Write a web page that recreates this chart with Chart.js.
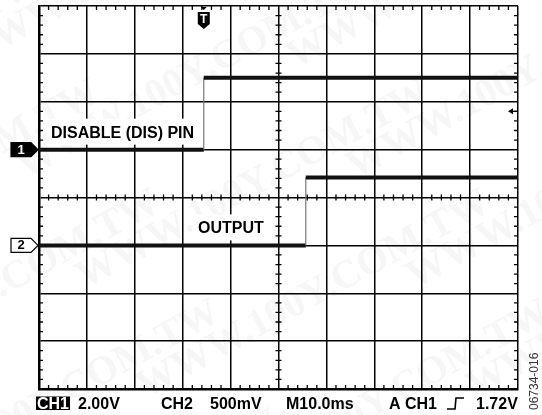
<!DOCTYPE html>
<html>
<head>
<meta charset="utf-8">
<script src="https://cdn.jsdelivr.net/npm/chart.js@4/dist/chart.umd.min.js"></script>
<style>
  html, body { margin: 0; padding: 0; background: #fff; }
  #wrap { width: 542px; height: 415px; position: relative; }
</style>
</head>
<body>
<div id="wrap"><canvas id="scope"></canvas></div>
<script>
// time in ms (10 ms/div), levels in screen divisions (8 div tall)
const ch1Time = [0, 34.4, 34.4, 100];
const ch1Level = [1.0, 1.0, 2.5, 2.5];
const ch2Time = [0, 55.7, 55.7, 100];
const ch2Level = [-1.0, -1.0, 0.42, 0.42];

const ch1Offset = 1.0;
const ch2Offset = -1.0;
const triggerTime = 34.4;
const triggerLevel = 1.8;

const labels = [
  { text: 'DISABLE (DIS) PIN', t: 2.5, level: 1.25 },
  { text: 'OUTPUT', t: 33.2, level: -0.75 }
];
const readout = [
  { text: '2.00V', x: 78 },
  { text: 'CH2', x: 161 },
  { text: '500mV', x: 210 },
  { text: 'M10.0ms', x: 286 },
  { text: 'A', x: 389 },
  { text: 'CH1', x: 405 },
  { text: '1.72V', x: 476 }
];
const figId = '06734-016';
const watermark = 'WWW.100Y.COM.TW';

const FONT = '"Liberation Sans", Arial, sans-serif';

const toPoints = (xs, ys) => xs.map((x, i) => ({ x: x, y: ys[i] }));

const scopeDecor = {
  id: 'scopeDecor',
  beforeDraw(chart) {
    const ctx = chart.ctx;
    ctx.save();
    ctx.fillStyle = 'rgba(150,150,150,0.09)';
    ctx.font = 'bold 40px "Liberation Serif", serif';
    ctx.textBaseline = 'middle';
    for (let row = -2; row < 6; row++) {
      for (let col = -1; col < 3; col++) {
        ctx.save();
        ctx.translate(col * 330 + row * 60 - 40, row * 110 + 60);
        ctx.rotate(-0.5);
        ctx.fillText(watermark, 0, 0);
        ctx.restore();
      }
    }
    ctx.restore();
  },
  beforeDatasetsDraw(chart) {
    const ctx = chart.ctx;
    const xs = chart.scales.x, ys = chart.scales.y;
    const a = chart.chartArea;
    const cx = xs.getPixelForValue(50), cy = ys.getPixelForValue(0);
    ctx.save();
    ctx.strokeStyle = '#000';
    ctx.lineWidth = 1.3;
    ctx.beginPath();
    // minor ticks every 0.2 div along center lines and borders
    for (let t = 0; t <= 100; t += 2) {
      if (t % 10 === 0) continue;
      const px = xs.getPixelForValue(t);
      ctx.moveTo(px, cy - 3); ctx.lineTo(px, cy + 3);
      ctx.moveTo(px, a.top); ctx.lineTo(px, a.top + 4);
      ctx.moveTo(px, a.bottom); ctx.lineTo(px, a.bottom - 4);
    }
    for (let v = -40; v <= 40; v += 2) {
      if (v % 10 === 0) continue;
      const py = ys.getPixelForValue(v / 10);
      ctx.moveTo(cx - 3, py); ctx.lineTo(cx + 3, py);
      ctx.moveTo(a.left, py); ctx.lineTo(a.left + 4, py);
      ctx.moveTo(a.right, py); ctx.lineTo(a.right - 4, py);
    }
    ctx.stroke();

    // text labels with white background
    ctx.font = 'bold 16px ' + FONT;
    ctx.textBaseline = 'alphabetic';
    labels.forEach(l => {
      const x = xs.getPixelForValue(l.t), y = ys.getPixelForValue(l.level);
      const w = ctx.measureText(l.text).width;
      ctx.fillStyle = '#fff';
      ctx.fillRect(x - 5, y - 19, w + 10, 26);
      ctx.fillStyle = '#000';
      ctx.fillText(l.text, x, y);
    });
    ctx.restore();
  },
  afterDraw(chart) {
    const ctx = chart.ctx;
    const xs = chart.scales.x, ys = chart.scales.y;
    const a = chart.chartArea;
    ctx.save();

    // channel ground markers
    const marker = (level, txt, filled) => {
      const y = ys.getPixelForValue(level);
      const r = a.left - 1;
      ctx.beginPath();
      ctx.moveTo(11, y - 7);
      ctx.lineTo(r - 7, y - 7);
      ctx.lineTo(r, y);
      ctx.lineTo(r - 7, y + 7);
      ctx.lineTo(11, y + 7);
      ctx.closePath();
      ctx.fillStyle = filled ? '#000' : '#fff';
      ctx.fill();
      ctx.lineWidth = 1.2;
      ctx.strokeStyle = '#000';
      ctx.stroke();
      ctx.fillStyle = filled ? '#fff' : '#000';
      ctx.font = 'bold 13px ' + FONT;
      ctx.textAlign = 'center';
      ctx.textBaseline = 'middle';
      ctx.fillText(txt, 21, y + 0.5);
    };
    marker(ch1Offset, '1', true);
    marker(ch2Offset, '2', false);

    // trigger position marker
    const tx = xs.getPixelForValue(triggerTime);
    ctx.fillStyle = '#000';
    ctx.beginPath();
    ctx.moveTo(tx - 3, a.top + 1); ctx.lineTo(tx + 3, a.top + 1); ctx.lineTo(tx, a.top + 4);
    ctx.closePath(); ctx.fill();
    ctx.beginPath();
    ctx.moveTo(tx - 6, a.top + 6);
    ctx.lineTo(tx + 6, a.top + 6);
    ctx.lineTo(tx + 6, a.top + 18);
    ctx.lineTo(tx, a.top + 23);
    ctx.lineTo(tx - 6, a.top + 18);
    ctx.closePath(); ctx.fill();
    ctx.fillStyle = '#fff';
    ctx.font = 'bold 12px ' + FONT;
    ctx.textAlign = 'center';
    ctx.textBaseline = 'middle';
    ctx.fillText('T', tx, a.top + 13.5);

    // trigger level marker
    const ly = ys.getPixelForValue(triggerLevel);
    ctx.fillStyle = '#000';
    ctx.beginPath();
    ctx.moveTo(a.right - 10, ly); ctx.lineTo(a.right - 5, ly - 3); ctx.lineTo(a.right - 5, ly + 3);
    ctx.closePath(); ctx.fill();
    ctx.lineWidth = 1.2;
    ctx.beginPath(); ctx.moveTo(a.right - 6, ly); ctx.lineTo(a.right - 1, ly); ctx.stroke();

    // readout line
    const by = 409;
    ctx.font = 'bold 16px ' + FONT;
    ctx.textAlign = 'left';
    ctx.textBaseline = 'alphabetic';
    const w1 = ctx.measureText('CH1').width;
    ctx.fillStyle = '#000';
    ctx.fillRect(36, by - 12.5, w1 + 2, 13.5);
    ctx.fillStyle = '#fff';
    ctx.fillText('CH1', 37, by);
    ctx.fillStyle = '#000';
    readout.forEach(r => ctx.fillText(r.text, r.x, by));
    // rising edge symbol
    ctx.lineWidth = 1.6;
    ctx.beginPath();
    ctx.moveTo(447, by); ctx.lineTo(455, by); ctx.lineTo(456, by - 11); ctx.lineTo(464, by - 11);
    ctx.stroke();

    // figure id, rotated
    ctx.save();
    ctx.translate(541, 410);
    ctx.rotate(-Math.PI / 2);
    ctx.font = '12px ' + FONT;
    ctx.fillStyle = '#333';
    ctx.textBaseline = 'bottom';
    ctx.fillText(figId, 0, 0);
    ctx.restore();

    ctx.restore();
  }
};

const isEdge = c => c.p0.parsed.x === c.p1.parsed.x;

new Chart(document.getElementById('scope'), {
  type: 'line',
  data: {
    datasets: [
      {
        label: 'DISABLE (DIS) PIN',
        data: toPoints(ch1Time, ch1Level),
        borderColor: '#111',
        borderWidth: 4,
        pointRadius: 0,
        tension: 0,
        segment: { borderWidth: c => (isEdge(c) ? 1.2 : undefined), borderColor: c => (isEdge(c) ? '#777' : undefined) }
      },
      {
        label: 'OUTPUT',
        data: toPoints(ch2Time, ch2Level),
        borderColor: '#111',
        borderWidth: 4,
        pointRadius: 0,
        tension: 0,
        segment: { borderWidth: c => (isEdge(c) ? 1.2 : undefined), borderColor: c => (isEdge(c) ? '#777' : undefined) }
      }
    ]
  },
  options: {
    responsive: true,
    maintainAspectRatio: false,
    animation: false,
    events: [],
    layout: { padding: { left: 39, top: 6, right: 24, bottom: 26 } },
    plugins: { legend: { display: false }, tooltip: { enabled: false } },
    scales: {
      x: {
        type: 'linear',
        min: 0, max: 100,
        ticks: { display: false, stepSize: 10 },
        grid: { color: '#000', lineWidth: 1.5, drawTicks: false },
        border: { color: '#000', width: 2.5 }
      },
      y: {
        type: 'linear',
        min: -4, max: 4,
        ticks: { display: false, stepSize: 1 },
        grid: { color: '#000', lineWidth: 1.5, drawTicks: false },
        border: { color: '#000', width: 2.5 }
      }
    }
  },
  plugins: [scopeDecor]
});
</script>
</body>
</html>
